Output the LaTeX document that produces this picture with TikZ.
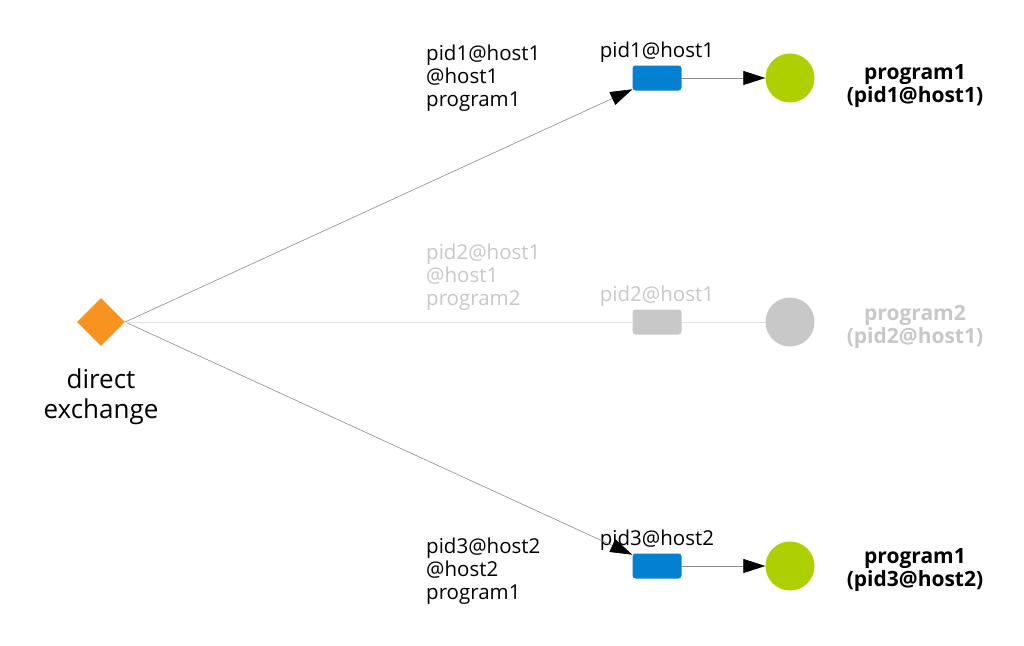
\documentclass[tikz,border=0pt]{standalone}
\usepackage{fontspec}
\setmainfont{Open Sans}
\usetikzlibrary{shapes.geometric,arrows.meta,positioning}

\definecolor{exorange}{HTML}{F7931E}
\definecolor{qblue}{HTML}{0480D2}
\definecolor{cgreen}{HTML}{AECF00}
\definecolor{fadegray}{HTML}{C8C8C8}
\definecolor{linegray}{HTML}{8C8C8C}
\definecolor{palegray}{HTML}{E2E2E2}

\tikzstyle{exchange}=[diamond,fill=exorange,minimum size=48pt,inner sep=0pt]
\tikzstyle{queue}=[rectangle,rounded corners=3pt,minimum width=49pt,minimum height=25pt,inner sep=0pt]
\tikzstyle{consumer}=[circle,minimum size=49pt,inner sep=0pt]
\tikzstyle{edge}=[draw,linegray,line width=0.6pt]
\tikzstyle{arrow}=[-{Triangle[length=22pt,width=14pt,color=black]}]
\tikzstyle{lbl}=[font=\fontsize{20.5}{23}\selectfont,inner sep=1pt]
\tikzstyle{boldlbl}=[font=\fontsize{21}{23}\selectfont\bfseries,inner sep=1pt]
\newcommand{\hmscale}{1pt}

\begin{document}
\begin{tikzpicture}[x=\hmscale, y=-\hmscale]
    \useasboundingbox (0,0) rectangle (1024,645);
    % the exchange
    \node[exchange] (ex) at (101,322) {};
    \node[font=\fontsize{26}{30}\selectfont,align=center,below=19pt of ex] (exlabel) {direct\\exchange};
    % queues, consumers and their labels
    \foreach \i/\y/\by/\cy/\qname/\host/\prog/\qc/\cc/\tc in {1/78/78/86/pid1@host1/host1/program1/qblue/cgreen/black,
                                                              2/322/277/327/pid2@host1/host1/program2/fadegray/fadegray/fadegray,
                                                              3/566/571/570/pid3@host2/host2/program1/qblue/cgreen/black}
    {
        \node[queue,fill=\qc] (q\i) at (657,\y) {};
        \node[consumer,fill=\cc] (c\i) at (790,\y) {};
        \node[lbl,text=\tc,above=2pt of q\i] (ql\i) {\qname};
        \node[lbl,text=\tc,align=left,anchor=west] (bl\i) at (425,\by) {\qname\\@\host\\\prog};
        \node[boldlbl,text=\tc,align=center] (cl\i) at (915,\cy) {\prog\\(\qname)};
    }
    % bindings and deliveries
    \path[edge,arrow] (ex.east) -- (q1);
    \path[edge,arrow] (ex.east) -- (q3);
    \path[edge,arrow] (q1) -- (c1);
    \path[edge,arrow] (q3) -- (c3);
    \path[edge,palegray] (ex.east) -- (q2) -- (c2);
\end{tikzpicture}
\end{document}
